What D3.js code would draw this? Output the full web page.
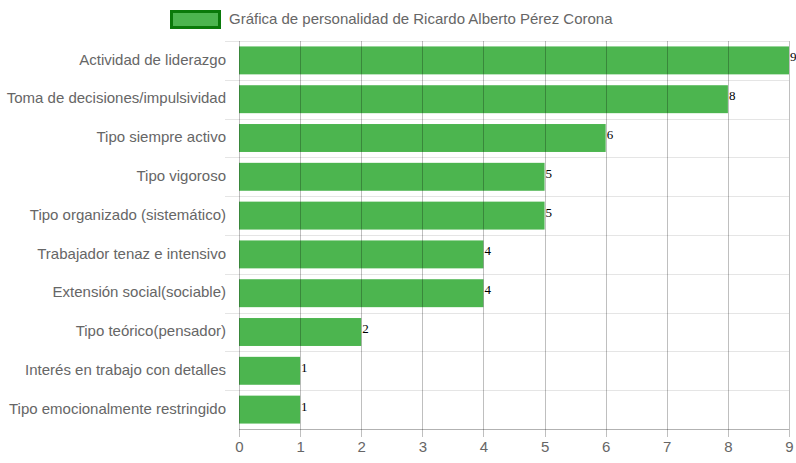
<!DOCTYPE html>
<html>
<head>
<meta charset="utf-8">
<script src="https://cdn.jsdelivr.net/npm/d3@7"></script>
<style>
  html, body { margin: 0; padding: 0; background: #fff; }
  svg { display: block; font-family: "Liberation Sans", Arial, Helvetica, sans-serif; }
</style>
</head>
<body>
<svg id="chart" width="796" height="463"></svg>
<script>
// Personality profile scores
const seriesName = "Gráfica de personalidad de Ricardo Alberto Pérez Corona";
const categories = [
  "Actividad de liderazgo",
  "Toma de decisiones/impulsividad",
  "Tipo siempre activo",
  "Tipo vigoroso",
  "Tipo organizado (sistemático)",
  "Trabajador tenaz e intensivo",
  "Extensión social(sociable)",
  "Tipo teórico(pensador)",
  "Interés en trabajo con detalles",
  "Tipo emocionalmente restringido"
];
const values = [9, 8, 6, 5, 5, 4, 4, 2, 1, 1];
const xTicks = [0, 1, 2, 3, 4, 5, 6, 7, 8, 9];

const svg = d3.select("#chart");
const margin = { top: 41, right: 7, bottom: 34, left: 239 };
const W = 796, H = 463;
const innerW = W - margin.left - margin.right;
const innerH = H - margin.top - margin.bottom;

const x = d3.scaleLinear().domain([0, 9]).range([0, innerW]);
const y = d3.scaleBand().domain(categories).range([0, innerH]).paddingInner(0).paddingOuter(0);

const g = svg.append("g").attr("transform", `translate(${margin.left},${margin.top})`);

// horizontal category grid lines (light), extending to the left as ticks
const bandEdges = categories.map(c => y(c));
g.append("g").selectAll("line").data(bandEdges).join("line")
  .attr("x1", -14).attr("x2", innerW)
  .attr("y1", d => Math.round(d) + 0.5).attr("y2", d => Math.round(d) + 0.5)
  .attr("stroke", "rgba(0,0,0,0.1)");

// bars
const barH = y.bandwidth() * 0.72;
g.append("g").selectAll("rect").data(values).join("rect")
  .attr("x", x(0))
  .attr("y", (d, i) => y(categories[i]) + (y.bandwidth() - barH) / 2)
  .attr("width", d => x(d) - x(0))
  .attr("height", barH)
  .attr("fill", "#4cb54f");

// vertical value grid lines drawn over the bars
g.append("g").selectAll("line").data(xTicks).join("line")
  .attr("x1", d => Math.round(x(d)) + 0.5).attr("x2", d => Math.round(x(d)) + 0.5)
  .attr("y1", 0).attr("y2", innerH + 8)
  .attr("stroke", "rgba(0,0,0,0.25)");

// bottom axis line
g.append("line")
  .attr("x1", 0).attr("x2", innerW)
  .attr("y1", innerH + 0.5).attr("y2", innerH + 0.5)
  .attr("stroke", "rgba(0,0,0,0.3)");

// x tick labels via d3 axis
const xAxis = d3.axisBottom(x).tickValues(xTicks).tickFormat(d3.format("d")).tickSize(0).tickPadding(12);
const xa = g.append("g").attr("transform", `translate(0,${innerH})`).call(xAxis);
xa.select(".domain").remove();
xa.selectAll("text").attr("fill", "#666").style("font-size", "15px")
  .style("font-family", '"Liberation Sans", Arial, sans-serif');

// y category labels via d3 axis
const yAxis = d3.axisLeft(y).tickSize(0).tickPadding(13);
const ya = g.append("g").call(yAxis);
ya.select(".domain").remove();
ya.selectAll("text").attr("fill", "#666").style("font-size", "15px")
  .attr("dy", "0.28em")
  .style("font-family", '"Liberation Sans", Arial, sans-serif');

// value labels at bar ends
g.append("g").selectAll("text").data(values).join("text")
  .attr("x", d => x(d) + 1)
  .attr("y", (d, i) => y(categories[i]) + (y.bandwidth() - barH) / 2 + 15)
  .attr("fill", "#000")
  .style("font-family", '"Liberation Serif", "Times New Roman", serif')
  .style("font-size", "13px")
  .text(d => d);

// legend
const legend = svg.append("g");
legend.append("rect")
  .attr("x", 171.5).attr("y", 11.5).attr("width", 48).attr("height", 16)
  .attr("fill", "#4cb54f").attr("stroke", "#0a7a0a").attr("stroke-width", 3);
legend.append("text")
  .attr("x", 229).attr("y", 24)
  .attr("fill", "#666")
  .style("font-size", "15px")
  .text(seriesName);
</script>
</body>
</html>
